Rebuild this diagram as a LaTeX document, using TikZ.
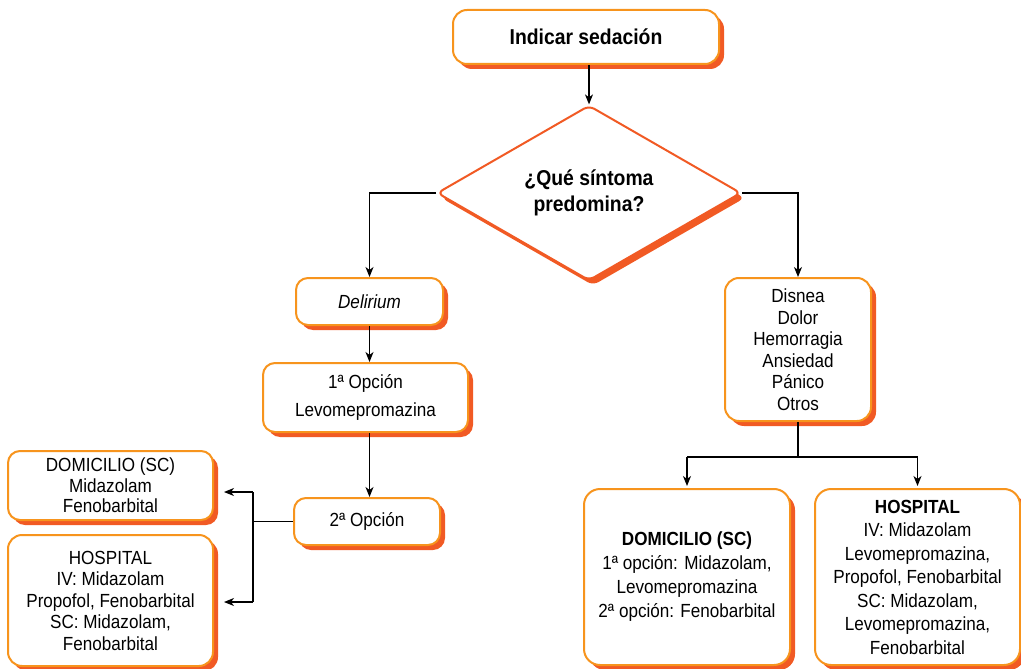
\documentclass[tikz,border=0pt]{standalone}
\usepackage{fontspec}
\setmainfont[FakeStretch=0.9]{Liberation Sans}
\usetikzlibrary{shapes.geometric,shadows,arrows.meta}
\definecolor{bordc}{HTML}{F7941D}
\definecolor{shadc}{HTML}{F15A24}
\begin{document}
\begin{tikzpicture}[x=1pt,y=-1pt,
  box/.style={draw=bordc,line width=2pt,fill=white,rounded corners=12pt,
    align=center,inner sep=0pt,
    drop shadow={shadow xshift=5pt,shadow yshift=-5pt,fill=shadc,opacity=1},
    font=\fontsize{19}{21.5}\selectfont},
  arr/.style={-{Stealth[length=10pt,width=8pt,inset=3pt]},line width=1.2pt},
  ln/.style={line width=1.2pt}]
\useasboundingbox (0,0) rectangle (1021,669);
\node[box,minimum width=266pt,minimum height=54pt,rounded corners=14pt,
  font=\fontsize{21.5}{24}\selectfont\bfseries] (title) at (586,37) {Indicar sedación};
\node[diamond,draw=shadc,line width=2pt,fill=white,rounded corners=6pt,inner sep=0pt,
  minimum width=304pt,minimum height=167pt,align=center,
  drop shadow={shadow xshift=4pt,shadow yshift=-5pt,fill=shadc,opacity=1},
  font=\fontsize{21.5}{26}\selectfont\bfseries] (dia) at (589,193) {¿Qué síntoma\\predomina?};
\node[box,minimum width=147pt,minimum height=47pt,font=\fontsize{19}{21.5}\selectfont\itshape] (del) at (369.5,301.5) {Delirium};
\node[box,minimum width=205pt,minimum height=69pt,font=\fontsize{19}{28}\selectfont] (op1) at (365.5,397.5) {1ª Opción\\Levomepromazina};
\node[box,minimum width=146pt,minimum height=47pt] (op2) at (367,521.5) {2ª Opción};
\node[box,minimum width=205pt,minimum height=69pt,font=\fontsize{19}{20.5}\selectfont] (dom1) at (110.5,485.5) {DOMICILIO (SC)\\Midazolam\\Fenobarbital};
\node[box,minimum width=205pt,minimum height=131pt,rounded corners=14pt] (hosp1) at (110.5,600.5) {HOSPITAL\\IV: Midazolam\\Propofol, Fenobarbital\\SC: Midazolam,\\Fenobarbital};
\node[box,minimum width=146pt,minimum height=143pt,rounded corners=14pt] (dis) at (798,349.5) {Disnea\\Dolor\\Hemorragia\\Ansiedad\\Pánico\\Otros};
\node[box,minimum width=206pt,minimum height=176pt,rounded corners=16pt,font=\fontsize{19}{24}\selectfont] (dom2) at (687,577) {{\bfseries DOMICILIO (SC)}\\1ª opción: Midazolam,\\Levomepromazina\\2ª opción: Fenobarbital};
\node[box,minimum width=205pt,minimum height=176pt,rounded corners=16pt,font=\fontsize{19}{23.5}\selectfont] (hosp2) at (917.5,577) {{\bfseries HOSPITAL}\\IV: Midazolam\\Levomepromazina,\\Propofol, Fenobarbital\\SC: Midazolam,\\Levomepromazina,\\Fenobarbital};
% connectors
\draw[arr] (dia.north |- title.south) -- (dia.north);
\draw[arr] (dia.west) -| (del.north);
\draw[arr] (dia.east) -| (dis.north);
\draw[arr] (del.south) -- (del.south |- op1.north);
\draw[arr] (op1.south -| del.south) -- (op2.north -| del.south);
\coordinate (bm) at (253,521.5);
\coordinate (b1) at (253,492);
\coordinate (b2) at (253,602);
\draw[ln] (op2.west) -- (bm);
\draw[ln] (b1) -- (b2);
\draw[arr,shorten >=10pt] (b1) -- (dom1.east |- b1);
\draw[arr,shorten >=10pt] (b2) -- (hosp1.east |- b2);
\coordinate (r0) at (798,457);
\draw[ln] (dis.south) -- (r0);
\draw[ln] (dom2.north |- r0) -- (hosp2.north |- r0);
\draw[arr,shorten >=2pt] (dom2.north |- r0) -- (dom2.north);
\draw[arr,shorten >=2pt] (hosp2.north |- r0) -- (hosp2.north);
\end{tikzpicture}
\end{document}
